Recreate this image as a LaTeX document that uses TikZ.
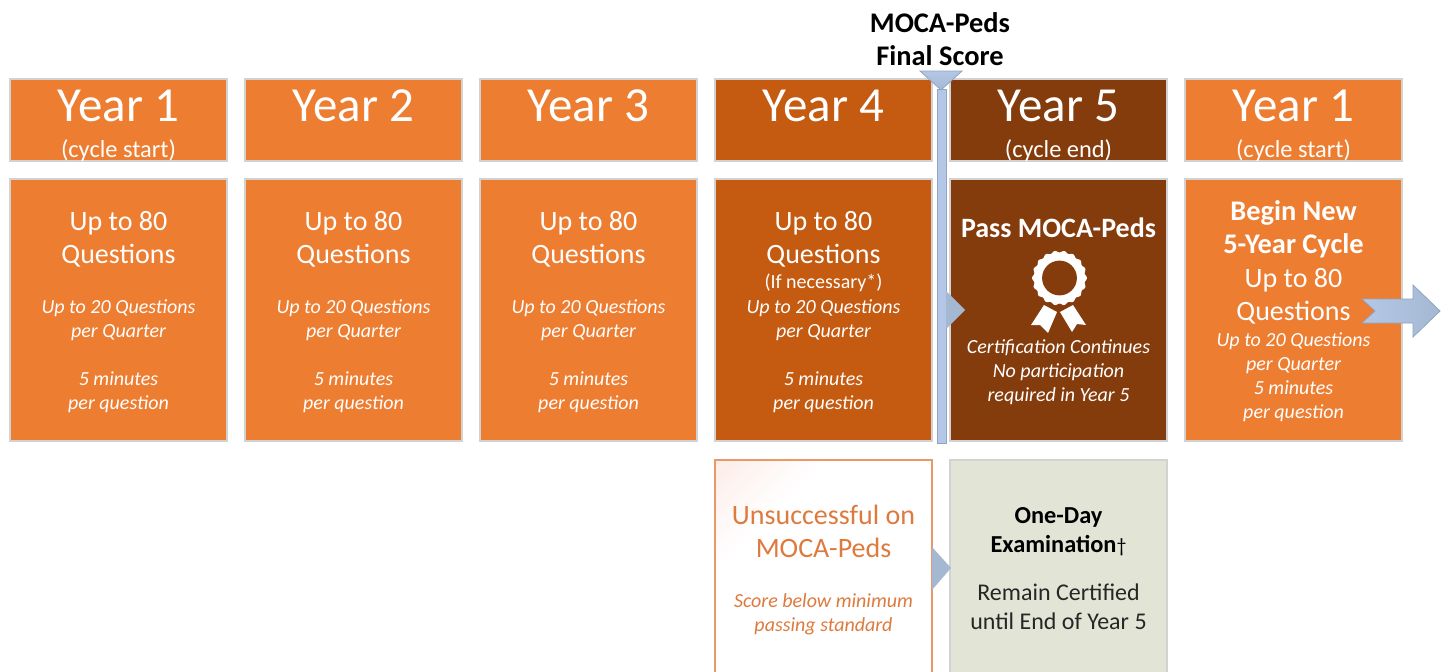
\documentclass[tikz,border=0pt]{standalone}
\usepackage{fontspec}
\setmainfont{Carlito}
\usetikzlibrary{calc}
\definecolor{orangeA}{HTML}{ED7D31}
\definecolor{orangeB}{HTML}{C55A11}
\definecolor{brownC}{HTML}{843C0C}
\definecolor{edgeG}{HTML}{D2D2D2}
\definecolor{greenD}{HTML}{E2E5D6}
\definecolor{blueL}{HTML}{B4C7E7}
\definecolor{blueM}{HTML}{A5B8D2}
\definecolor{blueE}{HTML}{8FA5C2}
\definecolor{peach}{HTML}{E9986A}
\definecolor{rust}{HTML}{DE7A3E}
\definecolor{pinkT}{HTML}{FBDDD3}
\pgfdeclareverticalshading{pinkfade}{100bp}{color(0bp)=(white); color(68bp)=(white); color(100bp)=(pinkT)}
\tikzset{
  x=0.5pt,y=-0.5pt,
  panel/.style={draw=edgeG,line width=0.6pt,anchor=north west,minimum width=108.5pt,inner sep=0pt,outer sep=0pt},
  head/.style={panel,minimum height=41pt},
  body/.style={panel,minimum height=131pt},
  low/.style={panel,minimum height=112pt},
  wtxt/.style={text=white,align=center,inner sep=0pt},
  yearlab/.style={wtxt,font=\fontsize{24.5}{28}\selectfont},
  cyc/.style={wtxt,font=\fontsize{12.2}{14}\selectfont},
  big/.style={wtxt,font=\fontsize{14}{16.5}\selectfont},
  small/.style={wtxt,font=\fontsize{10}{12}\selectfont\itshape},
  blk/.style={draw=blueE,line width=0.4pt,fill=blueM},
}
\begin{document}
\begin{tikzpicture}
\clip (0,0) rectangle (1444,671);
% header boxes
\node[head,fill=orangeA] (h1) at (10,79) {};
\node[head,fill=orangeA] (h2) at (245,79) {};
\node[head,fill=orangeA] (h3) at (480,79) {};
\node[head,fill=orangeB] (h4) at (715,79) {};
\node[head,fill=brownC] (h5) at (950,79) {};
\node[head,fill=orangeA] (h6) at (1185,79) {};
% body boxes
\node[body,fill=orangeA] (b1) at (10,179) {};
\node[body,fill=orangeA] (b2) at (245,179) {};
\node[body,fill=orangeA] (b3) at (480,179) {};
\node[body,fill=orangeB] (b4) at (715,179) {};
\node[body,fill=brownC] (b5) at (950,179) {};
\node[body,fill=orangeA] (b6) at (1185,179) {};
% lower boxes
\shade[shading=pinkfade,shading angle=45] (715,460) rectangle (932,690);
\node[low,draw=peach,line width=1pt] (u) at (715,460) {};
\node[low,fill=greenD] (o) at (950,460) {};
% header text
\foreach \n/\t/\s in {h1/Year 1/(cycle start),h2/Year 2/,h3/Year 3/,h4/Year 4/,h5/Year 5/(cycle end),h6/Year 1/(cycle start)}{
  \node[yearlab] at ($(\n.north)+(0,27)$) {\t};
  \node[cyc] at ($(\n.north)+(0,72)$) {\s};
}
% body text
\foreach \n in {b1,b2,b3}{
  \node[big] at ($(\n.north)+(0,60)$) {Up to 80\\Questions};
  \node[small] at ($(\n.north)+(0,141)$) {Up to 20 Questions\\per Quarter};
  \node[small] at ($(\n.north)+(0,213)$) {5 minutes\\per question};
}
\node[big] at ($(b4.north)+(0,60)$) {Up to 80\\Questions};
\node[wtxt,font=\fontsize{10}{12}\selectfont] at ($(b4.north)+(0,104)$) {(If necessary*)};
\node[small] at ($(b4.north)+(0,141)$) {Up to 20 Questions\\per Quarter};
\node[small] at ($(b4.north)+(0,213)$) {5 minutes\\per question};
\node[wtxt,font=\fontsize{14}{16}\selectfont\bfseries] at ($(b5.north)+(0,49)$) {Pass MOCA-Peds};
\node[small] at ($(b5.north)+(0,193)$) {Certification Continues\\No participation\\required in Year 5};
\node[wtxt,font=\fontsize{14.2}{16.5}\selectfont\bfseries] at ($(b6.north)+(0,50)$) {Begin New\\5-Year Cycle};
\node[big] at ($(b6.north)+(0,117)$) {Up to 80\\Questions};
\node[small] at ($(b6.north)+(0,198)$) {Up to 20 Questions\\per Quarter\\5 minutes\\per question};
% ribbon
\fill[white] plot[domain=0:360,samples=217,smooth cycle] ({1059.5+(26.5+0.9*cos(18*\x))*cos(\x)},{278+(26.5+0.9*cos(18*\x))*sin(\x)});
\fill[brownC] (1059.5,278) circle (8.7pt);
\fill[white] (1044,305)--(1057,312)--(1048,333)--(1040,325)--(1031,325)--cycle;
\fill[white] (1073,305)--(1060,312)--(1072,332)--(1077,324)--(1086,325)--cycle;
% lower text
\node[wtxt,text=rust,font=\fontsize{14}{16.5}\selectfont] at ($(u.north)+(0,71)$) {Unsuccessful on\\MOCA-Peds};
\node[wtxt,text=rust,font=\fontsize{10}{12}\selectfont\itshape] at ($(u.north)+(0,154)$) {Score below minimum\\passing standard};
\node[wtxt,text=black,font=\fontsize{12.2}{14.5}\selectfont\bfseries] at ($(o.north)+(0,72)$) {One-Day\\Examination{\fontsize{10}{12}\selectfont\mdseries †}};
\node[wtxt,text=black!85,font=\fontsize{12}{14.5}\selectfont] at ($(o.north)+(0,147)$) {Remain Certified\\until End of Year 5};
% title
\node[wtxt,text=black,font=\fontsize{14.2}{16.5}\selectfont\bfseries] (t) at (940,39) {MOCA-Peds\\Final Score};
% bar and pointers
\draw[blk,fill=blueL] (937,89) rectangle (946,443);
\shade[top color=blueL,bottom color=blueM,draw=blueE,line width=0.4pt] (920,71)--(962,71)--(941,90)--cycle;
\fill[blueM] (946,291)--(965,310)--(946,329)--cycle;
\fill[blueM] (932,547)--(951,568)--(932,590)--cycle;
\shade[left color=blueL,right color=blueM,draw=blueE,line width=0.4pt] (1362,299)--(1413,299)--(1413,285)--(1440,311)--(1413,337)--(1413,323)--(1362,323)--(1375,311)--cycle;
\end{tikzpicture}
\end{document}
